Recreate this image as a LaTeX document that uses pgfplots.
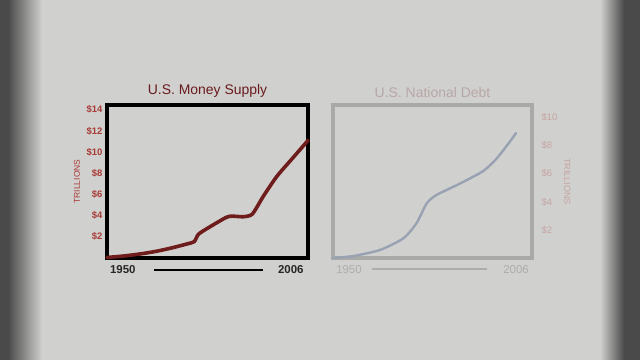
\documentclass[border=0pt]{standalone}
\usepackage{pgfplots}
\pgfplotsset{compat=1.18}
\usepackage{fontspec}
\setmainfont{Liberation Sans}
\definecolor{bgc}{HTML}{D0D0CE}
\definecolor{edgec}{HTML}{4A4A4A}
\definecolor{msred}{HTML}{6E1C1C}
\definecolor{tickred}{HTML}{A83A36}
\definecolor{titlered}{HTML}{6A1A1E}
\definecolor{ghostbox}{HTML}{A9A9A8}
\definecolor{ghosttitle}{HTML}{B8A7A8}
\definecolor{ghosttick}{HTML}{C6A3A2}
\definecolor{ghostline}{HTML}{98A2B2}
\definecolor{ghostx}{HTML}{ADADAB}
\pgfplotstableread{
year value
1950 0.05
1955 0.2
1960 0.42
1964 0.65
1968 0.95
1972 1.3
1974.3 1.55
1975.5 2.25
1978.7 2.95
1983.3 3.85
1985 3.95
1988 3.9
1990.5 4.15
1993.5 5.8
1997.3 7.7
2001.9 9.5
2006 11.1
}\moneydata
\pgfplotstableread{
year value
1950 0.0
1955.7 0.14
1963.2 0.57
1969.8 1.4
1973.5 2.48
1976.4 3.9
1979.2 4.5
1985.7 5.3
1992.3 6.2
1996.1 7.1
1999.8 8.3
2001.5 8.9
}\debtdata
\begin{document}
\begin{tikzpicture}
% background with vignette
\fill[bgc] (0bp,0bp) rectangle (640bp,360bp);
\fill[edgec] (0bp,0bp) rectangle (8bp,360bp);
\shade[left color=edgec, right color=bgc] (8bp,0bp) rectangle (42bp,360bp);
\shade[left color=bgc, right color=edgec] (600bp,0bp) rectangle (624bp,360bp);
\fill[edgec] (624bp,0bp) rectangle (640bp,360bp);
% Left chart: U.S. Money Supply
\begin{axis}[
  at={(107bp,102bp)}, anchor=south west,
  width=201bp, height=153bp, scale only axis,
  xmin=1950, xmax=2006, ymin=0, ymax=14.45,
  axis line style={black, line width=4bp},
  major tick length=0pt,
  ytick={2,4,6,8,10,12,14},
  yticklabels={\$2,\$4,\$6,\$8,\$10,\$12,\$14},
  yticklabel style={font=\fontsize{9.5}{10}\selectfont\bfseries, text=tickred, xshift=-1bp},
  xtick={1954.4,2001.2},
  xticklabels={1950,2006},
  xticklabel style={font=\fontsize{11.5}{12}\selectfont\bfseries, text=black!85, yshift=-4bp},
  title={U.S. Money Supply},
  title style={font=\fontsize{14}{15}\selectfont, text=titlered, yshift=-2bp},
  ylabel={TRILLIONS},
  ylabel style={font=\fontsize{8.5}{9}\selectfont, text=tickred, yshift=0bp},
  clip=false,
]
\addplot[msred, line width=3.6bp, smooth, tension=0.4, line cap=round, line join=round] table[x=year,y=value]{\moneydata};
\addplot[black, line width=2.2bp] coordinates {(1963,-1.13) (1993.5,-1.13)};
\end{axis}
% Right chart: U.S. National Debt (faded)
\begin{axis}[
  at={(333bp,102bp)}, anchor=south west,
  width=199bp, height=153bp, scale only axis,
  xmin=1950, xmax=2006, ymin=0, ymax=10.9,
  axis line style={ghostbox, line width=4bp},
  major tick length=0pt,
  ytick={2,4,6,8,10},
  yticklabels={\$2,\$4,\$6,\$8,\$10},
  yticklabel pos=right,
  yticklabel style={font=\fontsize{9.5}{10}\selectfont, text=ghosttick, xshift=6bp},
  xtick={1954.5,2001.5},
  xticklabels={1950,2006},
  xticklabel style={font=\fontsize{11.5}{12}\selectfont, text=ghostx, yshift=-4bp},
  title={U.S. National Debt},
  title style={font=\fontsize{14}{15}\selectfont, text=ghosttitle, yshift=-2bp},
  ylabel={TRILLIONS},
  ylabel near ticks, ylabel style={font=\fontsize{9}{10}\selectfont, text=ghosttick, rotate=180},
  clip=false,
]
\addplot[ghostline, line width=2.4bp, smooth, tension=0.4, line cap=round] table[x=year,y=value]{\debtdata};
\addplot[ghostx, line width=1.6bp] coordinates {(1961,-0.8) (1993.4,-0.8)};
\end{axis}
\end{tikzpicture}
\end{document}
